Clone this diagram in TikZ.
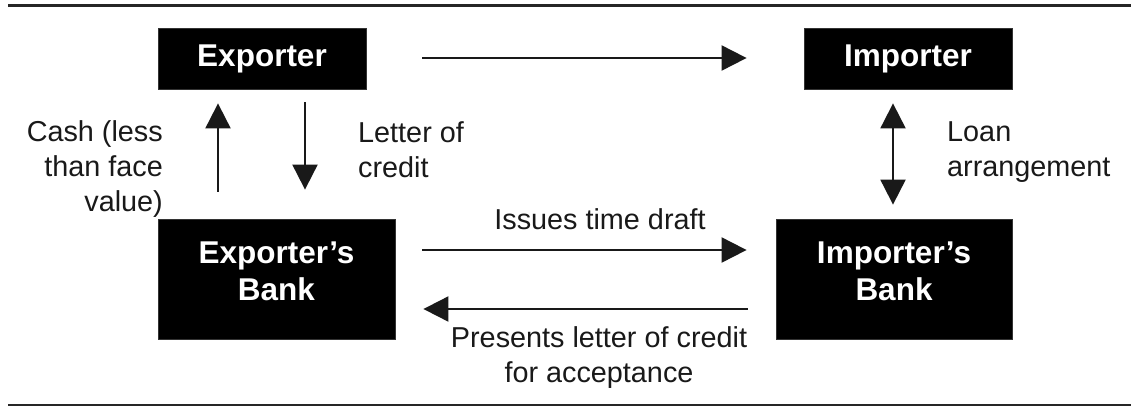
\documentclass[tikz,border=0pt]{standalone}
\usepackage{fontspec}
\setmainfont{Liberation Sans}
\usetikzlibrary{arrows.meta}
\begin{document}
\begin{tikzpicture}[x=1pt,y=-1pt,
  box/.style={fill=black,draw=black!80,line width=0.8pt,inner sep=0pt},
  boxtext/.style={text=white,align=center,inner sep=0pt,font=\fontsize{31.5}{37}\selectfont\bfseries},
  lbl/.style={inner sep=0pt,text=black!90,font=\fontsize{28.8}{35}\selectfont},
  arr/.style={line width=2pt,draw=black!90,-{Triangle[length=25pt,width=25pt]}},
  darr/.style={line width=2pt,draw=black!90,{Triangle[length=25pt,width=25pt]}-{Triangle[length=25pt,width=25pt]}},
  rule/.style={draw=black!85}]
\useasboundingbox (0,0) rectangle (1131,407);
\fill[white] (0,0) rectangle (1131,407);
% rules
\draw[rule,line width=3.5pt] (8,5.5) -- (1131,5.5);
\draw[rule,line width=2.5pt] (8,405) -- (1131,405);
% boxes
\node[box,minimum width=208pt,minimum height=61pt] (exp) at (262,58.5) {};
\node[boxtext] (expt) at (262,58.5) {Exporter};
\node[box,minimum width=208pt,minimum height=61pt] (imp) at (908,58.5) {};
\node[boxtext] (impt) at (908,58.5) {Importer};
\node[box,minimum width=237pt,minimum height=120pt] (expb) at (276.5,279) {};
\node[boxtext] (expbt) at (276.5,271.5) {Exporter’s\\Bank};
\node[box,minimum width=236pt,minimum height=120pt] (impb) at (894,279) {};
\node[boxtext] (impbt) at (894,271.5) {Importer’s\\Bank};
% arrows
\draw[arr,shorten <=56pt,shorten >=57pt] ([yshift=0.5pt]exp.east) -- ([yshift=0.5pt]imp.west);
\draw[arr,shorten <=27pt,shorten >=14pt] ([xshift=-58.5pt]expb.north) -- ([xshift=-44pt]exp.south);
\draw[arr,shorten <=13pt,shorten >=29pt] ([xshift=43pt]exp.south) -- ([xshift=28.5pt]expb.north);
\draw[darr,shorten <=14pt,shorten >=14pt] ([xshift=-15pt]imp.south) -- ([xshift=-1pt]impb.north);
\draw[arr,shorten <=27pt,shorten >=29pt] ([yshift=29pt]expb.east) -- ([yshift=29pt]impb.west);
\draw[arr,shorten <=28pt,shorten >=28pt] ([yshift=-30pt]impb.west) -- ([yshift=-30pt]expb.east);
% labels (base anchor = baseline of last line)
\node[lbl,align=right,anchor=base east] (cash) at (163,211) {Cash (less\\than face\\value)};
\node[lbl,align=left,anchor=base west] (loc) at (358,177) {Letter of\\credit};
\node[lbl,align=left,anchor=base west] (loan) at (947,176) {Loan\\arrangement};
\node[lbl,anchor=base] (issues) at (600,229) {Issues time draft};
\node[lbl,align=center,anchor=base] (pres) at (599,382) {Presents letter of credit\\for acceptance};
\end{tikzpicture}
\end{document}
